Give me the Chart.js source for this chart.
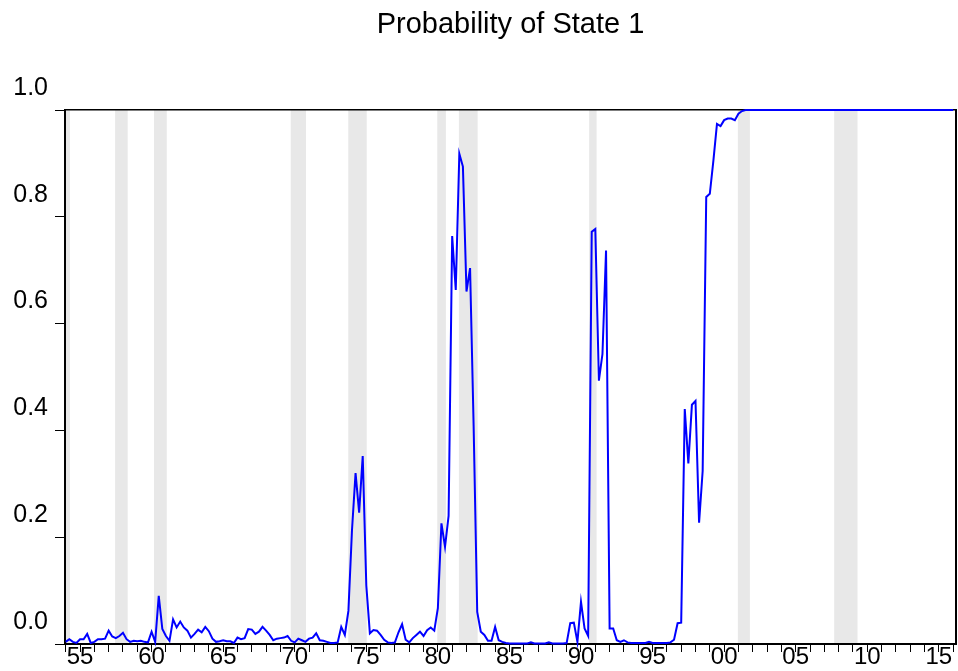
<!DOCTYPE html>
<html><head><meta charset="utf-8">
<script src="https://cdn.jsdelivr.net/npm/chart.js@4/dist/chart.umd.min.js"></script>
<style>html,body{margin:0;padding:0;background:#fff;}canvas{display:block;}</style>
</head><body>
<canvas id="c" width="958" height="671"></canvas>
<script>
// ---- DATA ----
const chartTitle = 'Probability of State 1';
const firstYear = 1954;            // first observation: 1954Q1 (quarterly data)
const stateProb = [
  0.004, 0.009, 0.004, 0.002,  // 1954
  0.009, 0.009, 0.019, 0.002,  // 1955
  0.004, 0.009, 0.009, 0.010,  // 1956
  0.025, 0.014, 0.011, 0.015,  // 1957
  0.021, 0.009, 0.004, 0.006,  // 1958
  0.005, 0.006, 0.004, 0.003,  // 1959
  0.023, 0.004, 0.090, 0.028,  // 1960
  0.015, 0.006, 0.046, 0.031,  // 1961
  0.042, 0.031, 0.025, 0.012,  // 1962
  0.019, 0.027, 0.022, 0.032,  // 1963
  0.024, 0.010, 0.004, 0.005,  // 1964
  0.007, 0.005, 0.005, 0.002,  // 1965
  0.012, 0.009, 0.011, 0.028,  // 1966
  0.027, 0.019, 0.023, 0.032,  // 1967
  0.025, 0.017, 0.007, 0.010,  // 1968
  0.011, 0.012, 0.015, 0.006,  // 1969
  0.003, 0.010, 0.007, 0.004,  // 1970
  0.010, 0.012, 0.020, 0.007,  // 1971
  0.006, 0.004, 0.002, 0.002,  // 1972
  0.003, 0.032, 0.017, 0.062,  // 1973
  0.213, 0.320, 0.246, 0.352,  // 1974
  0.110, 0.020, 0.026, 0.025,  // 1975
  0.017, 0.008, 0.003, 0.002,  // 1976
  0.003, 0.022, 0.037, 0.008,  // 1977
  0.003, 0.011, 0.017, 0.023,  // 1978
  0.015, 0.026, 0.031, 0.025,  // 1979
  0.067, 0.226, 0.182, 0.240,  // 1980
  0.764, 0.663, 0.918, 0.894,  // 1981
  0.660, 0.704, 0.407, 0.060,  // 1982
  0.023, 0.017, 0.006, 0.006,  // 1983
  0.032, 0.007, 0.004, 0.002,  // 1984
  0.001, 0.001, 0.001, 0.001,  // 1985
  0.001, 0.001, 0.003, 0.001,  // 1986
  0.001, 0.001, 0.001, 0.003,  // 1987
  0.001, 0.001, 0.001, 0.001,  // 1988
  0.002, 0.039, 0.040, 0.004,  // 1989
  0.079, 0.029, 0.015, 0.772,  // 1990
  0.777, 0.493, 0.543, 0.737,  // 1991
  0.029, 0.029, 0.007, 0.004,  // 1992
  0.007, 0.003, 0.002, 0.002,  // 1993
  0.002, 0.002, 0.002, 0.004,  // 1994
  0.002, 0.002, 0.002, 0.002,  // 1995
  0.002, 0.003, 0.008, 0.039,  // 1996
  0.040, 0.440, 0.338, 0.448,  // 1997
  0.455, 0.227, 0.324, 0.837,  // 1998
  0.843, 0.905, 0.974, 0.970,  // 1999
  0.981, 0.984, 0.984, 0.981,  // 2000
  0.993, 0.998, 1.000, 1.000,  // 2001
  1.000, 1.000, 1.000, 1.000,  // 2002
  1.000, 1.000, 1.000, 1.000,  // 2003
  1.000, 1.000, 1.000, 1.000,  // 2004
  1.000, 1.000, 1.000, 1.000,  // 2005
  1.000, 1.000, 1.000, 1.000,  // 2006
  1.000, 1.000, 1.000, 1.000,  // 2007
  1.000, 1.000, 1.000, 1.000,  // 2008
  1.000, 1.000, 1.000, 1.000,  // 2009
  1.000, 1.000, 1.000, 1.000,  // 2010
  1.000, 1.000, 1.000, 1.000,  // 2011
  1.000, 1.000, 1.000, 1.000,  // 2012
  1.000, 1.000, 1.000, 1.000,  // 2013
  1.000, 1.000, 1.000, 1.000,  // 2014
  1.000, 1.000, 1.000, 1.000,  // 2015
  1.000                        // 2016Q1
];
// shaded recession periods (decimal years)
const recessionStart = [1953.50, 1957.45, 1960.17, 1969.72, 1973.74, 1979.96, 1981.47, 1990.57, 2000.96, 2007.69];
const recessionEnd   = [1954.30, 1958.33, 1961.06, 1970.79, 1975.03, 1980.56, 1982.78, 1991.09, 2001.80, 2009.32];
// axis
const xRange = [1953.95, 2016.2];
const xLabelYears = [1955, 1960, 1965, 1970, 1975, 1980, 1985, 1990, 1995, 2000, 2005, 2010, 2015];
const xTickLabels = ['55', '60', '65', '70', '75', '80', '85', '90', '95', '00', '05', '10', '15'];
const yTickValues = [0, 0.2, 0.4, 0.6, 0.8, 1.0];
const yTickLabels = ['0.0', '0.2', '0.4', '0.6', '0.8', '1.0'];

// ---- BUILD ----
const points = stateProb.map((v, i) => ({ x: firstYear + i / 4, y: v }));
const tickYears = [];
for (let y = Math.ceil(xRange[0]); y <= Math.floor(xRange[1]); y++) tickYears.push(y);

const FONT = "'Liberation Sans', Arial, sans-serif";

const recessionPlugin = {
  id: 'recessions',
  beforeDraw(chart) {
    const { ctx, chartArea, scales } = chart;
    const xs = scales.x;
    ctx.save();
    ctx.fillStyle = '#e8e8e8';
    for (let k = 0; k < recessionStart.length; k++) {
      const a = Math.max(xs.getPixelForValue(recessionStart[k]), chartArea.left);
      const b = Math.min(xs.getPixelForValue(recessionEnd[k]), chartArea.right);
      if (b > a) ctx.fillRect(a, chartArea.top, b - a, chartArea.bottom - chartArea.top);
    }
    ctx.restore();
  }
};

new Chart(document.getElementById('c'), {
  type: 'line',
  data: {
    datasets: [{
      data: points,
      borderColor: '#0000ff',
      borderWidth: 2,
      pointRadius: 0,
      fill: false,
      tension: 0,
      clip: 4
    }]
  },
  options: {
    responsive: false,
    animation: false,
    devicePixelRatio: 1,
    layout: { padding: 0 },
    plugins: {
      legend: { display: false },
      tooltip: { enabled: false },
      title: { display: false }
    },
    scales: {
      x: {
        type: 'linear', position: 'bottom', min: xRange[0], max: xRange[1],
        afterFit(s) { s.height = 27; },
        afterBuildTicks(s) { s.ticks = tickYears.map(v => ({ value: v })); },
        ticks: {
          autoSkip: false, maxRotation: 0, minRotation: 0, padding: -9, color: '#000',
          font: { family: FONT, size: 24 },
          callback(v) { const k = xLabelYears.indexOf(v); return k >= 0 ? xTickLabels[k] : ''; }
        },
        grid: { display: true, drawOnChartArea: false, drawTicks: true, tickLength: 8, tickColor: '#000', tickWidth: 1 },
        border: { display: true, color: '#000', width: 2 }
      },
      y: {
        type: 'linear', position: 'left', min: 0, max: 1,
        afterFit(s) { s.width = 65; },
        afterBuildTicks(s) { s.ticks = yTickValues.map(v => ({ value: v })); },
        ticks: {
          padding: 7, labelOffset: -22, color: '#000',
          font: { family: FONT, size: 25 },
          callback(v, i) { return yTickLabels[i]; }
        },
        grid: { display: true, drawOnChartArea: false, drawTicks: true, tickLength: 10, tickColor: '#000', tickWidth: 1 },
        border: { display: true, color: '#000', width: 2 }
      },
      xTop: {
        type: 'linear', position: 'top', min: xRange[0], max: xRange[1],
        afterFit(s) { s.height = 110; },
        ticks: { display: false },
        grid: { display: true, drawOnChartArea: false, drawTicks: false },
        border: { display: true, color: '#000', width: 1.5 },
        title: {
          display: true, text: chartTitle, color: '#000',
          font: { family: FONT, size: 29, weight: 'normal', lineHeight: 1.2 },
          padding: { top: 8, bottom: 0 }
        }
      },
      yRight: {
        type: 'linear', position: 'right', min: 0, max: 1,
        afterFit(s) { s.width = 2; },
        ticks: { display: false },
        grid: { display: true, drawOnChartArea: false, drawTicks: false },
        border: { display: true, color: '#000', width: 2 }
      }
    }
  },
  plugins: [recessionPlugin]
});
</script>
</body></html>
